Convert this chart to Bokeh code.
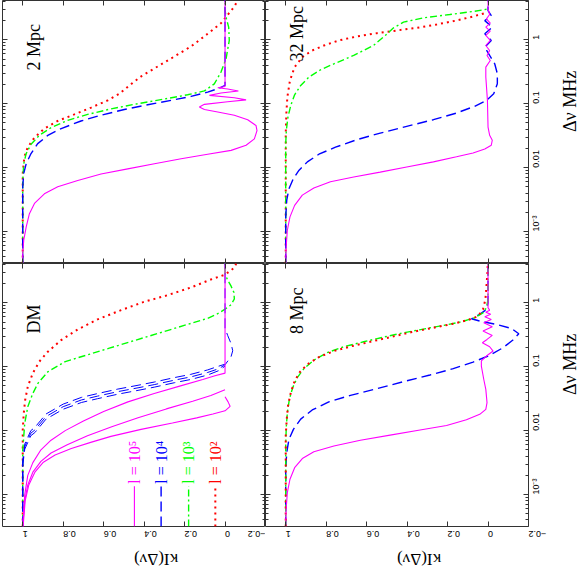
import math
from bokeh.plotting import figure
from bokeh.models import Range1d, LinearAxis, LogAxis, FixedTicker, Grid
from bokeh.layouts import gridplot
from bokeh.core.properties import value
from bokeh.embed import file_html
from bokeh.resources import INLINE

# ---------------- ticks ----------------
KAPPA_TICKS = [1.0, 0.8, 0.6, 0.4, 0.2, 0.0, -0.2]
KAPPA_TICK_LABELS = ["1", "0.8", "0.6", "0.4", "0.2", "0", "\u22120.2"]
NU_TICKS = [0.001, 0.01, 0.1, 1.0]
NU_TICK_LABELS = ["10\u207b\u00b3", "0.01", "0.1", "1"]
NU_MINOR = [m * 10.0 ** e for e in range(-4, 1) for m in range(2, 10)]

PANEL_NAMES = ["2 Mpc", "32 Mpc", "DM", "8 Mpc"]
LEGEND_LABELS = ["l = 10\u2075", "l = 10\u2074", "l = 10\u00b3", "l = 10\u00b2"]

# ---------------- data: log10(dnu/MHz) and kappa ----------------
# DM panel
DM_MAG1_LOGNU = [-3.5, -3.0, -2.7, -2.5, -2.3, -2.15, -2.0, -1.85, -1.7, -1.55, -1.42, -1.3, -1.2, -1.14, -1.10, 0.7]
DM_MAG1_KAPPA = [1.0, 0.99, 0.975, 0.95, 0.91, 0.86, 0.79, 0.70, 0.60, 0.48, 0.35, 0.22, 0.11, 0.05, 0.0, 0.0]
DM_MAG2_LOGNU = [-3.5, -3.1, -2.85, -2.65, -2.48, -2.35, -2.22, -2.08, -1.94, -1.8, -1.66, -1.54, -1.45, -1.36]
DM_MAG2_KAPPA = [1.0, 0.99, 0.975, 0.95, 0.91, 0.86, 0.78, 0.68, 0.56, 0.43, 0.29, 0.16, 0.07, 0.0]
DM_MAG3_LOGNU = [-3.5, -3.1, -2.85, -2.65, -2.5, -2.38, -2.28, -2.18, -2.09, -1.98, -1.88, -1.80, -1.74, -1.69, -1.62, -1.55, -1.47]
DM_MAG3_KAPPA = [0.998, 0.988, 0.97, 0.94, 0.90, 0.84, 0.76, 0.66, 0.564, 0.415, 0.26, 0.14, 0.06, 0.0, -0.025, -0.015, 0.0]
DM_BLUE1_LOGNU = [-3.5, -2.47, -2.21, -2.00, -1.95, -1.74, -1.585, -1.48, -1.42, -1.35, -1.29, -1.24, -1.17, -1.12, -1.05, -0.99, -0.96]
DM_BLUE2_LOGNU = [-3.5, -2.51, -2.25, -2.04, -1.99, -1.78, -1.625, -1.52, -1.46, -1.39, -1.33, -1.28, -1.21, -1.16, -1.09, -1.03, -0.97, -0.84, -0.75, -0.64, -0.51, -0.40, 0.7]
DM_BLUE3_LOGNU = [-3.5, -2.55, -2.29, -2.08, -2.03, -1.82, -1.665, -1.56, -1.50, -1.43, -1.37, -1.32, -1.25, -1.20, -1.13, -1.06, -0.99]
DM_BLUE_KAPPA = [1.0, 1.0, 0.99, 0.96, 0.94, 0.885, 0.80, 0.71, 0.63, 0.53, 0.43, 0.35, 0.25, 0.17, 0.086, 0.03, 0.0, -0.03, -0.038, -0.03, -0.013, 0.0, 0.0]
DM_GREEN_LOGNU = [-3.5, -2.30, -1.885, -1.625, -1.417, -1.26, -1.08, -0.92, -0.82, -0.71, -0.61, -0.48, -0.35, -0.24, -0.16, -0.10, -0.03, 0.06, 0.16, 0.26, 0.36, 0.46, 0.7]
DM_GREEN_KAPPA = [1.0, 1.0, 0.99, 0.975, 0.95, 0.925, 0.876, 0.79, 0.686, 0.572, 0.468, 0.333, 0.198, 0.083, 0.03, 0.0, -0.03, -0.046, -0.044, -0.03, -0.012, 0.0, 0.0]
DM_RED_LOGNU = [-3.5, -1.99, -1.73, -1.52, -1.31, -1.10, -0.92, -0.766, -0.583, -0.417, -0.26, -0.115, 0.016, 0.12, 0.24, 0.365, 0.44, 0.55, 0.615]
DM_RED_KAPPA = [1.0, 1.0, 0.995, 0.988, 0.975, 0.95, 0.918, 0.876, 0.81, 0.728, 0.63, 0.514, 0.40, 0.283, 0.168, 0.07, 0.0, -0.046, -0.055]

# 2 Mpc panel
P2_MAG_LOGNU = [-3.5, -3.34, -3.135, -2.93, -2.72, -2.56, -2.41, -2.30, -2.20, -2.10, -2.02, -1.94, -1.86, -1.79, -1.73, -1.65, -1.55, -1.42, -1.34, -1.25, -1.18, -1.13, -1.09, -1.05, -1.01, -0.97, -0.94, -0.906, -0.87, -0.833, -0.80, -0.77, -0.75, -0.73, 0.7]
P2_MAG_KAPPA = [1.0, 1.0, 0.995, 0.983, 0.967, 0.942, 0.893, 0.827, 0.728, 0.613, 0.481, 0.349, 0.217, 0.086, -0.03, -0.104, -0.145, -0.158, -0.153, -0.112, -0.046, 0.036, 0.102, 0.127, 0.102, -0.013, -0.104, -0.046, 0.077, 0.02, -0.066, -0.013, 0.036, 0.0, 0.0]
P2_BLUE_LOGNU = [-3.5, -2.30, -2.09, -1.94, -1.78, -1.625, -1.495, -1.39, -1.27, -1.18, -1.09, -1.016, -0.948, -0.885, -0.818, -0.766, -0.714, 0.7]
P2_BLUE_KAPPA = [1.0, 1.0, 0.995, 0.983, 0.959, 0.926, 0.876, 0.81, 0.712, 0.613, 0.498, 0.382, 0.267, 0.168, 0.086, 0.036, 0.0, 0.0]
P2_GREEN_LOGNU = [-3.5, -2.20, -1.94, -1.78, -1.635, -1.495, -1.375, -1.26, -1.167, -1.08, -1.0, -0.927, -0.86, -0.80, -0.69, -0.505, -0.297, -0.01, 0.198, 0.328, 0.46, 0.7]
P2_GREEN_KAPPA = [1.0, 1.0, 0.995, 0.983, 0.959, 0.918, 0.86, 0.778, 0.679, 0.563, 0.432, 0.30, 0.185, 0.102, 0.053, 0.02, -0.005, -0.021, -0.018, -0.007, 0.0, 0.0]
P2_RED_LOGNU = [-3.5, -2.09, -1.83, -1.68, -1.53, -1.39, -1.27, -1.167, -1.06, -0.948, -0.844, -0.714, -0.573, -0.417, -0.26, -0.104, 0.094, 0.26, 0.52, 0.615]
P2_RED_KAPPA = [1.0, 1.0, 0.992, 0.975, 0.942, 0.893, 0.827, 0.745, 0.662, 0.58, 0.522, 0.473, 0.415, 0.333, 0.25, 0.168, 0.086, 0.02, -0.046, -0.062]

# 8 Mpc panel
P8_MAG_LOGNU = [-3.5, -3.23, -2.97, -2.76, -2.58, -2.4375, -2.33, -2.24, -2.15, -2.07, -1.99, -1.92, -1.83, -1.745, -1.667, -1.5625, -1.354, -1.20, -0.99, -0.91, -0.833, -0.755, -0.6875, -0.625, -0.573, -0.51, -0.443, -0.375, -0.3125, -0.26, -0.219, -0.18, -0.146, -0.115, -0.078, 0.7]
P8_MAG_KAPPA = [1.0, 0.998, 0.992, 0.979, 0.956, 0.918, 0.861, 0.762, 0.631, 0.484, 0.336, 0.205, 0.107, 0.041, 0.011, 0.005, 0.011, 0.021, 0.033, 0.033, 0.008, -0.025, -0.008, 0.028, 0.005, -0.021, 0.025, -0.021, 0.021, -0.016, 0.016, -0.013, 0.011, -0.008, 0.0, 0.0]
P8_BLUE_LOGNU = [-3.5, -2.60, -2.34, -2.135, -1.98, -1.82, -1.677, -1.55, -1.448, -1.344, -1.234, -1.13, -1.03, -0.927, -0.823, -0.703, -0.583, -0.484, -0.40, -0.339, -0.286, -0.25, -0.18, -0.104, 0.0, 0.7]
P8_BLUE_KAPPA = [1.0, 1.0, 0.995, 0.984, 0.962, 0.926, 0.869, 0.787, 0.68, 0.549, 0.418, 0.287, 0.172, 0.074, -0.008, -0.074, -0.123, -0.152, -0.115, -0.041, 0.041, 0.082, 0.041, 0.008, 0.0, 0.0]
P8_GREEN_LOGNU = [-3.5, -2.19, -1.93, -1.72, -1.51, -1.33, -1.17, -1.03, -0.896, -0.78, -0.6875, -0.61, -0.536, -0.469, -0.411, -0.354, -0.297, -0.234, -0.156, -0.078, 0.052, 0.7]
P8_GREEN_KAPPA = [1.0, 1.0, 0.997, 0.992, 0.982, 0.966, 0.943, 0.91, 0.861, 0.795, 0.713, 0.615, 0.516, 0.418, 0.32, 0.221, 0.131, 0.066, 0.025, 0.008, 0.0, 0.0]
P8_RED_LOGNU = [-3.5, -2.08, -1.82, -1.615, -1.406, -1.224, -1.083, -0.964, -0.849, -0.755, -0.677, -0.604, -0.531, -0.458, -0.396, -0.333, -0.27, -0.208, -0.104, 0.052, 0.26, 0.47, 0.7]
P8_RED_KAPPA = [1.0, 1.0, 0.995, 0.989, 0.975, 0.956, 0.93, 0.893, 0.836, 0.762, 0.672, 0.574, 0.475, 0.377, 0.279, 0.18, 0.098, 0.049, 0.025, 0.013, 0.008, 0.003, 0.0]

# 32 Mpc panel
P32_MAG_LOGNU = [-3.5, -3.24, -2.98, -2.77, -2.59, -2.43, -2.32, -2.22, -2.146, -2.07, -1.99, -1.91, -1.83, -1.77, -1.71, -1.65, -1.57, -1.495, -1.365, -0.948, -0.583, -0.427, -0.323, -0.245, -0.167, -0.089, -0.01, 0.068, 0.135, 0.198, 0.26, 0.328, 0.396, 0.484, 0.7]
P32_MAG_KAPPA = [1.0, 0.998, 0.992, 0.979, 0.956, 0.918, 0.861, 0.779, 0.664, 0.533, 0.402, 0.27, 0.156, 0.074, 0.016, -0.016, -0.021, -0.008, 0.0, 0.003, 0.011, 0.011, -0.011, 0.005, -0.008, 0.011, -0.011, 0.011, -0.011, 0.011, -0.011, 0.008, -0.008, 0.0, 0.0]
P32_BLUE_LOGNU = [-3.5, -2.77, -2.51, -2.33, -2.17, -2.04, -1.91, -1.79, -1.68, -1.5625, -1.46, -1.354, -1.25, -1.146, -1.04, -0.948, -0.844, -0.6875, -0.53, -0.375, -0.245, -0.115, -0.01, 0.094, 0.198, 0.30, 0.38, 0.458, 0.7]
P32_BLUE_KAPPA = [1.0, 1.0, 0.995, 0.984, 0.962, 0.934, 0.893, 0.836, 0.754, 0.648, 0.533, 0.402, 0.27, 0.156, 0.066, 0.008, -0.028, -0.046, -0.046, -0.033, -0.008, 0.016, -0.016, 0.016, -0.021, 0.016, -0.016, 0.0, 0.0]
P32_GREEN_LOGNU = [-3.5, -1.625, -1.417, -1.21, -1.026, -0.86, -0.714, -0.583, -0.469, -0.365, -0.245, -0.089, 0.068, 0.1875, 0.276, 0.344, 0.396, 0.443, 0.479]
P32_GREEN_KAPPA = [1.0, 1.0, 0.997, 0.989, 0.975, 0.956, 0.926, 0.885, 0.828, 0.754, 0.664, 0.566, 0.508, 0.467, 0.418, 0.32, 0.189, 0.074, 0.005]
P32_RED_LOGNU = [-3.5, -1.47, -1.156, -0.896, -0.635, -0.427, -0.27, -0.167, -0.089, -0.01, 0.052, 0.104, 0.146, 0.1875, 0.24, 0.302, 0.365, 0.417, 0.448]
P32_RED_KAPPA = [1.0, 1.0, 0.997, 0.992, 0.979, 0.956, 0.918, 0.869, 0.811, 0.738, 0.648, 0.549, 0.451, 0.352, 0.254, 0.156, 0.074, 0.016, 0.005]

# ---------------- styling ----------------
MAG, BLUE, GREEN, RED = "#ff00ff", "#0000ff", "#00ff00", "#ff0000"
STYLE = {
    "mag": dict(line_color=MAG, line_width=1.1, line_dash="solid"),
    "blue": dict(line_color=BLUE, line_width=1.4, line_dash="10 5"),
    "blue_thin": dict(line_color=BLUE, line_width=1.0, line_dash="10 5"),
    "green": dict(line_color=GREEN, line_width=1.4, line_dash="7 3 2 3"),
    "red": dict(line_color=RED, line_width=2.0, line_dash="2 4"),
}
FRAME = 263
FRAME_COLOR = "#333333"
SERIF = "Liberation Serif"
SANS = "Liberation Sans"
LOG_LO, LOG_HI = -3.5, 0.615


def nu(logs):
    return [10.0 ** v for v in logs]


def style_hidden_labels(ax):
    ax.major_label_text_font_size = "0px"
    ax.major_label_text_color = None
    ax.major_label_text_alpha = 0
    ax.major_label_standoff = 0


def kappa_axis(show, label):
    ax = LinearAxis(ticker=FixedTicker(ticks=KAPPA_TICKS, minor_ticks=[]))
    ax.major_tick_in = 5
    ax.major_tick_out = 0
    ax.minor_tick_in = 0
    ax.minor_tick_out = 0
    ax.minor_tick_line_color = None
    ax.axis_line_color = None
    ax.major_tick_line_color = FRAME_COLOR
    if show:
        ax.major_label_overrides = dict(zip(KAPPA_TICKS, KAPPA_TICK_LABELS))
        ax.major_label_text_font = SANS
        ax.major_label_text_color = "black"
        ax.major_label_text_font_size = "9px"
        ax.major_label_orientation = math.pi
        ax.major_label_standoff = 7
    else:
        style_hidden_labels(ax)
    if label:
        ax.axis_label = label
        ax.axis_label_text_font = SERIF
        ax.axis_label_text_font_size = "17px"
        ax.axis_label_text_font_style = "normal"
        ax.axis_label_text_color = "black"
        ax.axis_label_standoff = 17
        try:
            ax.axis_label_orientation = math.pi
        except Exception:
            pass
    return ax


def nu_axis(show, label):
    ax = LogAxis(ticker=FixedTicker(ticks=NU_TICKS, minor_ticks=NU_MINOR))
    ax.major_tick_in = 5
    ax.major_tick_out = 0
    ax.minor_tick_in = 3
    ax.minor_tick_out = 0
    ax.axis_line_color = None
    ax.major_tick_line_color = FRAME_COLOR
    ax.minor_tick_line_color = FRAME_COLOR
    if show:
        ax.major_label_overrides = dict(zip(NU_TICKS, NU_TICK_LABELS))
        ax.major_label_text_font = SANS
        ax.major_label_text_color = "black"
        ax.major_label_text_font_size = "9px"
        ax.major_label_orientation = math.pi / 2
        ax.major_label_standoff = 8
    else:
        style_hidden_labels(ax)
    if label:
        ax.axis_label = label
        ax.axis_label_text_font = SERIF
        ax.axis_label_text_font_size = "18px"
        ax.axis_label_text_font_style = "normal"
        ax.axis_label_text_color = "black"
        ax.axis_label_standoff = 20
        try:
            ax.axis_label_orientation = math.pi / 2
        except Exception:
            pass
    return ax


def make_panel(bottom_labels, right_labels, left_col):
    p = figure(frame_width=FRAME, frame_height=FRAME,
               x_range=Range1d(1.1, -0.2),
               y_range=Range1d(10.0 ** LOG_LO, 10.0 ** LOG_HI),
               y_axis_type="log", x_axis_location=None, y_axis_location=None,
               toolbar_location=None, output_backend="svg",
               background_fill_color="white", border_fill_color="white")
    p.min_border_left = 2 if left_col else 0
    p.min_border_right = 0
    p.min_border_top = 0
    p.min_border_bottom = 0
    p.outline_line_color = FRAME_COLOR
    p.outline_line_width = 1
    for g in p.select(type=Grid):
        g.visible = False
    p.add_layout(kappa_axis(False, None), "above")
    p.add_layout(kappa_axis(bottom_labels, "\u03baI(\u0394\u03bd)" if bottom_labels else None), "below")
    p.add_layout(nu_axis(False, None), "left")
    p.add_layout(nu_axis(right_labels, "\u0394\u03bd  MHz" if right_labels else None), "right")
    return p


def draw(p, logs, kap, key):
    p.line(x=kap, y=nu(logs), **STYLE[key])


def panel_label(p, text, k, lognu):
    p.text(x=[k], y=[10.0 ** lognu], text=[text], angle=math.pi / 2,
           text_font=value(SERIF), text_font_size="18px", text_color="black",
           text_align="left", text_baseline="alphabetic")


# 2 Mpc (top-left)
p2 = make_panel(False, False, True)
draw(p2, P2_RED_LOGNU, P2_RED_KAPPA, "red")
draw(p2, P2_GREEN_LOGNU, P2_GREEN_KAPPA, "green")
draw(p2, P2_BLUE_LOGNU, P2_BLUE_KAPPA, "blue")
draw(p2, P2_MAG_LOGNU, P2_MAG_KAPPA, "mag")
panel_label(p2, PANEL_NAMES[0], 0.946, -0.48)

# 32 Mpc (top-right)
p32 = make_panel(False, True, False)
draw(p32, P32_RED_LOGNU, P32_RED_KAPPA, "red")
draw(p32, P32_GREEN_LOGNU, P32_GREEN_KAPPA, "green")
draw(p32, P32_BLUE_LOGNU, P32_BLUE_KAPPA, "blue")
draw(p32, P32_MAG_LOGNU, P32_MAG_KAPPA, "mag")
panel_label(p32, PANEL_NAMES[1], 0.942, -0.34)

# DM (bottom-left)
pdm = make_panel(True, False, True)
draw(pdm, DM_RED_LOGNU, DM_RED_KAPPA, "red")
draw(pdm, DM_GREEN_LOGNU, DM_GREEN_KAPPA, "green")
draw(pdm, DM_BLUE1_LOGNU, DM_BLUE_KAPPA[:len(DM_BLUE1_LOGNU)], "blue_thin")
draw(pdm, DM_BLUE2_LOGNU, DM_BLUE_KAPPA, "blue_thin")
draw(pdm, DM_BLUE3_LOGNU, DM_BLUE_KAPPA[:len(DM_BLUE3_LOGNU)], "blue_thin")
draw(pdm, DM_MAG1_LOGNU, DM_MAG1_KAPPA, "mag")
draw(pdm, DM_MAG2_LOGNU, DM_MAG2_KAPPA, "mag")
draw(pdm, DM_MAG3_LOGNU, DM_MAG3_KAPPA, "mag")
panel_label(pdm, PANEL_NAMES[2], 0.946, -0.48)

# legend (as in the original: short vertical samples with rotated labels)
for key, kx, lab in zip(["mag", "blue", "green", "red"], [0.448, 0.316, 0.18, 0.048], LEGEND_LABELS):
    pdm.line(x=[kx, kx], y=[10.0 ** LOG_LO, 10.0 ** -2.87], **STYLE[key])
    pdm.text(x=[kx], y=[10.0 ** -2.83], text=[lab], angle=math.pi / 2,
             text_font=value(SERIF), text_font_size="16px", text_color=STYLE[key]["line_color"],
             text_align="left", text_baseline="alphabetic")

# 8 Mpc (bottom-right)
p8 = make_panel(True, True, False)
draw(p8, P8_BLUE_LOGNU, P8_BLUE_KAPPA, "blue")
draw(p8, P8_GREEN_LOGNU, P8_GREEN_KAPPA, "green")
draw(p8, P8_RED_LOGNU, P8_RED_KAPPA, "red")
draw(p8, P8_MAG_LOGNU, P8_MAG_KAPPA, "mag")
panel_label(p8, PANEL_NAMES[3], 0.942, -0.49)

grid = gridplot([[p2, p32], [pdm, p8]], toolbar_location=None)

open("out.html", "w").write(file_html(grid, INLINE))
